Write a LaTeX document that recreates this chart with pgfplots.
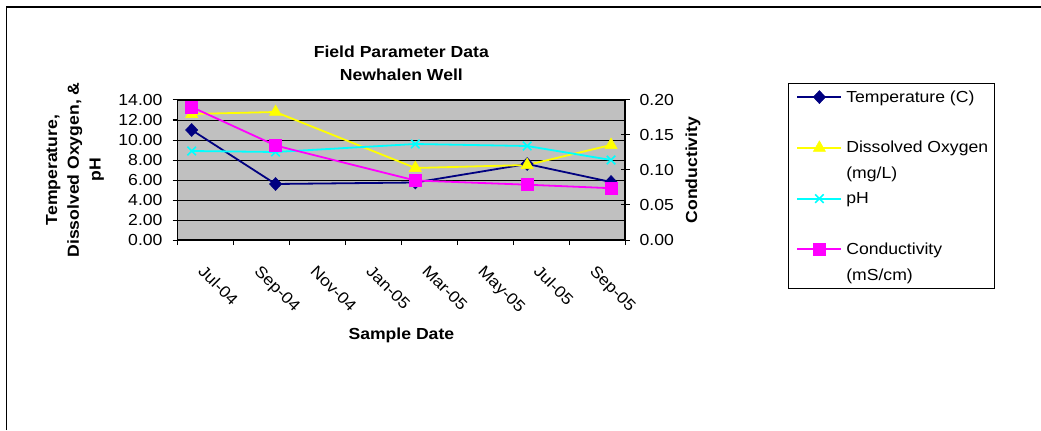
\documentclass[border=0pt]{standalone}
\usepackage{pgfplots}
\pgfplotsset{compat=1.18}
\usepackage{fontspec}
\setmainfont{Liberation Sans}[FakeStretch=1.1]
\newcommand\fs{\fontsize{16bp}{21.7bp}\selectfont}
\newcommand\fst{\fontsize{16bp}{23.3bp}\selectfont}
\definecolor{plotgray}{RGB}{192,192,192}
\definecolor{navy}{RGB}{0,0,128}
\definecolor{yel}{RGB}{255,255,0}
\definecolor{cyn}{RGB}{0,255,255}
\definecolor{mag}{RGB}{255,0,255}
\pgfplotsset{
  common/.style={
    scale only axis, width=447.3bp, height=140bp,
    at={(177.7bp,190bp)}, anchor=south west,
    xmin=0, xmax=16,
    tick label style={font=\fs},
    label style={font=\fs\bfseries},
    yticklabel style={/pgf/number format/fixed, /pgf/number format/fixed zerofill, /pgf/number format/precision=2, /pgf/number format/assume math mode=true},
    axis line style={line width=1.2bp, black},
    every tick/.style={black, line width=1bp},
  },
  tser/.style={navy, line width=1.8bp, mark=diamond*, mark size=6.5bp, mark options={fill=navy, line width=0.5bp, xscale=1.25}},
  dser/.style={yel, line width=1.8bp, mark=triangle*, mark size=7bp, mark options={fill=yel, line width=0.5bp}},
  pser/.style={cyn, line width=1.8bp, mark=x, mark size=6bp, mark options={line width=1.6bp}},
  cser/.style={mag, line width=1.8bp, mark=square*, mark size=6bp, mark options={fill=mag, line width=0.5bp}},
}
\begin{document}
\begin{tikzpicture}[x=1bp,y=1bp]
\useasboundingbox (0,0) rectangle (1041,430);
\draw[line width=1.5bp] (6.5,0) -- (6.5,423) -- (1041,423);
\begin{axis}[common,
  axis background/.style={fill=plotgray},
  ymin=0, ymax=14, ytick={0,2,...,14},
  ymajorgrids, grid style={black, line width=0.8bp},
  tick pos=left, tick align=outside,
  major tick length=5bp,
  xtick={0,2,...,16}, xticklabels={,,,,,,,,},
  extra x ticks={1,3,5,7,9,11,13,15},
  extra x tick labels={Jul-04,Sep-04,Nov-04,Jan-05,Mar-05,May-05,Jul-05,Sep-05},
  extra x tick style={major tick length=0pt, xticklabel style={xshift=0bp, yshift=-24bp, rotate=-45, anchor=north west, inner sep=0pt}},
  yticklabel style={inner sep=0pt, xshift=-10bp},
  title={Field Parameter Data\\Newhalen Well},
  title style={align=center, font=\fst\bfseries, at={(axis description cs:0.5,1.219)}, anchor=center},
  xlabel={Sample Date},
  xlabel style={at={(axis description cs:0.5,-0.680)}, anchor=center},
  ylabel={Temperature,\\Dissolved Oxygen, \&\\pH},
  ylabel style={align=center, at={(axis description cs:-0.2296,0.5)}, anchor=center},
]
\addplot[tser] coordinates {(0.5,11.0) (3.5,5.6) (8.5,5.75) (12.5,7.6) (15.5,5.8)};
\addplot[dser] coordinates {(0.5,12.6) (3.5,12.8) (8.5,7.2) (12.5,7.5) (15.5,9.5)};
\addplot[pser] coordinates {(0.5,8.9) (3.5,8.8) (8.5,9.6) (12.5,9.4) (15.5,8.0)};
\end{axis}
\begin{axis}[common,
  axis x line=none, axis y line*=right,
  axis line style={-},
  ymin=0, ymax=0.2, ytick={0,0.05,0.1,0.15,0.2},
  tick align=center, major tick length=9bp,
  yticklabel style={inner sep=0pt, xshift=10bp},
  ylabel={Conductivity},
  ylabel style={at={(axis description cs:1.152,0.5)}, anchor=center},
  legend style={at={(axis description cs:1.3644,1.1214)}, anchor=north west,
    draw=black, line width=1bp, fill=white, inner xsep=4bp, inner ysep=5bp,
    font=\fs, row sep=8.6bp, column sep=2bp,
    cells={anchor=base west, inner sep=0pt}},
  legend image code/.code={\path (-4bp,5bp); \draw[mark repeat=2, mark phase=2, #1] plot coordinates {(0bp,5bp) (22bp,5bp) (44bp,5bp)};},
]
\addlegendimage{tser}
\addlegendentry{Temperature (C)}
\addlegendimage{empty legend}
\addlegendentry{\phantom{X}}
\addlegendimage{dser}
\addlegendentry{Dissolved Oxygen}
\addlegendimage{empty legend}
\addlegendentry{(mg/L)}
\addlegendimage{pser}
\addlegendentry{pH}
\addlegendimage{empty legend}
\addlegendentry{\phantom{X}}
\addplot[cser] coordinates {(0.5,0.19) (3.5,0.135) (8.5,0.085) (12.5,0.079) (15.5,0.074)};
\addlegendentry{Conductivity}
\addlegendimage{empty legend}
\addlegendentry{(mS/cm)}
\end{axis}
\end{tikzpicture}
\end{document}
